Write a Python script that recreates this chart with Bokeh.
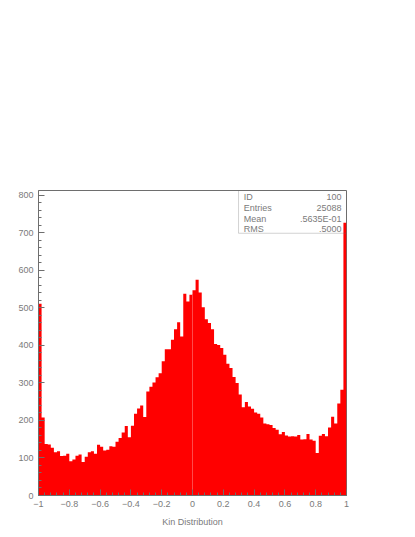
from bokeh.plotting import figure
from bokeh.models import Range1d, FixedTicker, BoxAnnotation, Label, CustomJSTickFormatter
from bokeh.embed import file_html
from bokeh.resources import INLINE
import numpy as np

# ---- data ----
x_min, x_max, n_bins = -1.0, 1.0, 100
counts = [
    511, 208, 137, 136, 127, 115, 118, 105, 106, 111,
    91, 96, 106, 109, 89, 103, 115, 118, 111, 135,
    130, 120, 122, 131, 130, 143, 153, 168, 185, 155,
    186, 218, 232, 240, 209, 277, 290, 301, 315, 326,
    358, 390, 390, 415, 443, 462, 424, 538, 517, 535,
    547, 575, 541, 502, 470, 460, 443, 404, 401, 393,
    375, 351, 340, 316, 300, 269, 235, 249, 237, 231,
    221, 218, 208, 192, 190, 188, 180, 175, 163, 169,
    160, 157, 158, 157, 161, 149, 150, 164, 149, 146,
    113, 159, 164, 158, 181, 210, 192, 245, 282, 727,
]
x_ticks = [-1.0, -0.8, -0.6, -0.4, -0.2, 0.0, 0.2, 0.4, 0.6, 0.8, 1.0]
y_ticks = [0, 100, 200, 300, 400, 500, 600, 700, 800]
stat_names = ["ID", "Entries", "Mean", "RMS"]
stat_values = ["100", "25088", ".5635E-01", ".5000"]
x_title = "Kin Distribution"

edges = np.linspace(x_min, x_max, n_bins + 1)
FONT = "Liberation Sans"
GRAY = "#7a7a7a"
LINE = "#6e6e6e"

p = figure(width=407, height=529, output_backend="svg", toolbar_location=None,
           x_range=Range1d(x_min, x_max), y_range=Range1d(0, 813),
           min_border_left=38, min_border_right=61, min_border_top=190,
           min_border_bottom=31)
p.background_fill_color = "white"
p.border_fill_color = "white"
p.outline_line_color = LINE
p.outline_line_width = 1
p.xgrid.visible = False
p.ygrid.visible = False

# histogram as one stepped filled area (no seams between bins)
p.varea_step(x=list(edges), y1=[0] * (n_bins + 1), y2=counts + [counts[-1]],
             step_mode="after", fill_color="#ff0000")

# faint line at x = 0 as in the reference
mid = n_bins // 2
p.segment(x0=[edges[mid]], y0=[0], x1=[edges[mid]], y1=[min(counts[mid - 1], counts[mid])],
          line_color="#ff4a4a", line_width=1)

# axes
x_minor = list(np.round(np.arange(-1.0, 1.0001, 0.04), 4))
y_minor = list(range(0, 821, 20))
p.xaxis.ticker = FixedTicker(ticks=x_ticks, minor_ticks=x_minor)
p.yaxis.ticker = FixedTicker(ticks=y_ticks, minor_ticks=y_minor)
p.xaxis.formatter = CustomJSTickFormatter(code="""
    if (Math.abs(tick) < 1e-9) return '0';
    let s = Math.abs(tick - Math.round(tick)) < 1e-9 ? String(Math.round(tick)) : tick.toFixed(1);
    return s.replace('-', '\u2212');
""")
for ax in (p.xaxis[0], p.yaxis[0]):
    ax.axis_line_color = LINE
    ax.major_tick_line_color = LINE
    ax.minor_tick_line_color = LINE
    ax.major_tick_in = 6
    ax.major_tick_out = 0
    ax.minor_tick_in = 3
    ax.minor_tick_out = 0
    ax.major_label_text_font = FONT
    ax.major_label_text_font_size = "9px"
    ax.major_label_text_color = GRAY
    ax.major_label_standoff = 5
p.xaxis.axis_label = x_title
p.xaxis.axis_label_text_font = FONT
p.xaxis.axis_label_text_font_size = "9px"
p.xaxis.axis_label_text_font_style = "normal"
p.xaxis.axis_label_text_color = GRAY
p.xaxis.axis_label_standoff = 7

# statistics box
p.add_layout(BoxAnnotation(left=0.299, right=1.0, top=813, bottom=699,
                           fill_alpha=0, line_color=LINE, line_width=1))
row_y = [797, 767, 738, 711]
for name, val, yy in zip(stat_names, stat_values, row_y):
    p.add_layout(Label(x=0.333, y=yy, text=name, text_font=FONT, text_font_size="9px",
                       text_color=GRAY, text_baseline="middle", text_align="left"))
    p.add_layout(Label(x=0.968, y=yy, text=val, text_font=FONT, text_font_size="9px",
                       text_color=GRAY, text_baseline="middle", text_align="right"))

open("out.html", "w").write(file_html(p, INLINE))
